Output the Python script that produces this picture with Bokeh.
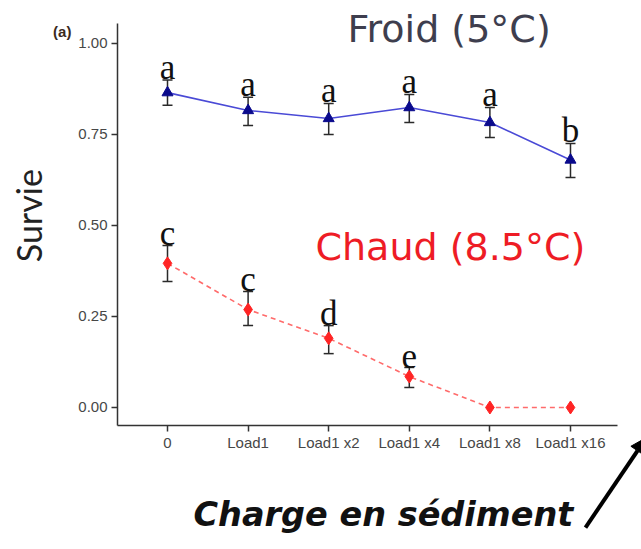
import math
from bokeh.plotting import figure
from bokeh.models import (ColumnDataSource, Whisker, TeeHead, Label, Arrow, NormalHead,
                          FixedTicker, NumeralTickFormatter)
from bokeh.embed import file_html
from bokeh.resources import INLINE
from bokeh.core.properties import value

# ---- data ----
categories = ["0", "Load1", "Load1 x2", "Load1 x4", "Load1 x8", "Load1 x16"]
positions = [1, 2, 3, 4, 5, 6]

froid_mean = [0.865, 0.816, 0.794, 0.824, 0.783, 0.680]
froid_lower = [0.830, 0.775, 0.750, 0.783, 0.742, 0.632]
froid_upper = [0.900, 0.852, 0.835, 0.860, 0.824, 0.725]
froid_letters = ["a", "a", "a", "a", "a", "b"]

chaud_mean = [0.396, 0.269, 0.190, 0.085, 0.0, 0.0]
chaud_err_pos = [1, 2, 3, 4]
chaud_lower = [0.346, 0.225, 0.148, 0.055]
chaud_upper = [0.445, 0.319, 0.225, 0.110]
chaud_letters = ["c", "c", "d", "e"]

y_ticks = [0.0, 0.25, 0.50, 0.75, 1.00]

# axis extents (data units) and full-canvas view
x_axis_bounds = (0.38, 6.583)
y_axis_bounds = (-0.049, 1.055)

# ---- figure ----
W, H = 641, 549
p = figure(width=W, height=H, output_backend="svg", toolbar_location=None,
           x_range=(-1.072, 6.881), y_range=(-0.3901, 1.1181), min_border=0)
p.outline_line_color = None
p.xgrid.visible = False
p.ygrid.visible = False
p.background_fill_color = "white"
p.border_fill_color = "white"

for ax in (p.xaxis[0], p.yaxis[0]):
    ax.axis_line_color = "#333333"
    ax.axis_line_width = 1.5
    ax.major_tick_line_color = "#333333"
    ax.major_tick_line_width = 1.5
    ax.major_tick_out = 6
    ax.major_tick_in = 0
    ax.minor_tick_line_color = None
    ax.major_label_text_font = "Liberation Sans"
    ax.major_label_text_font_size = "15px"
    ax.major_label_text_color = "#474747"

p.xaxis.fixed_location = y_axis_bounds[0]
p.xaxis.bounds = x_axis_bounds
p.xaxis.ticker = FixedTicker(ticks=positions)
p.xaxis.major_label_overrides = {pos: lab for pos, lab in zip(positions, categories)}
p.xaxis.major_label_standoff = 3

p.yaxis.fixed_location = x_axis_bounds[0]
p.yaxis.bounds = y_axis_bounds
p.yaxis.ticker = FixedTicker(ticks=y_ticks)
p.yaxis.formatter = NumeralTickFormatter(format="0.00")
p.yaxis.major_label_standoff = 4

# ---- series ----
fsrc = ColumnDataSource(dict(x=positions, y=froid_mean, lo=froid_lower, up=froid_upper,
                             lab=froid_letters, ly=[u + 0.035 for u in froid_upper]))
csrc = ColumnDataSource(dict(x=positions, y=chaud_mean))
cerr = ColumnDataSource(dict(x=chaud_err_pos, lo=chaud_lower, up=chaud_upper,
                             lab=chaud_letters, ly=[u + 0.032 for u in chaud_upper]))

p.line("x", "y", source=fsrc, line_color="#4a4ad6", line_width=1.6)
p.scatter("x", "y", source=fsrc, marker="triangle", size=11,
          fill_color="#0a0a8c", line_color="#0a0a8c")

p.line("x", "y", source=csrc, line_color="#ff6b6b", line_width=1.6, line_dash="5 4")
p.scatter("x", "y", source=csrc, marker="diamond", size=13,
          fill_color="#ff2424", line_color="#ff2424")

for src in (fsrc, cerr):
    w = Whisker(base="x", lower="lo", upper="up", source=src, dimension="height",
                line_color="#2a2a2a", line_width=1.5,
                upper_head=TeeHead(size=10, line_color="#2a2a2a", line_width=1.5),
                lower_head=TeeHead(size=10, line_color="#2a2a2a", line_width=1.5))
    p.add_layout(w)
    p.text("x", "ly", text="lab", source=src, text_font=value("Liberation Serif"),
           text_font_size="35px", text_align="center", text_baseline="middle",
           text_color="#111111")

# ---- annotations ----
p.add_layout(Label(x=3.233, y=1.0385, text="Froid (5°C)", text_font="DejaVu Sans",
                   text_font_size="38px", text_color="#3e3e4e",
                   text_baseline="middle"))
p.add_layout(Label(x=2.836, y=0.4396, text="Chaud (8.5°C)", text_font="DejaVu Sans",
                   text_font_size="38px", text_color="#ee1c25",
                   text_baseline="middle"))
p.add_layout(Label(x=-0.42, y=1.033, text="(a)", text_font="Liberation Sans",
                   text_font_size="15px", text_font_style="bold",
                   text_color="#3b2a1e", text_baseline="middle"))
p.add_layout(Label(x=-0.73, y=0.527, text="Survie", text_font="Lato",
                   text_font_size="34px", text_color="#222222", angle=math.pi / 2,
                   text_align="center", text_baseline="middle"))
p.add_layout(Label(x=1.323, y=-0.2953, text="Charge en sédiment", text_font="DejaVu Sans",
                   text_font_size="33.5px", text_font_style="bold italic",
                   text_color="#111111", text_align="left", text_baseline="middle"))
p.add_layout(Arrow(x_start=6.186, y_start=-0.3297, x_end=6.943, y_end=-0.0824,
                   line_color="black", line_width=4,
                   end=NormalHead(size=16, fill_color="black", line_color="black")))

open("out.html", "w").write(file_html(p, INLINE))
